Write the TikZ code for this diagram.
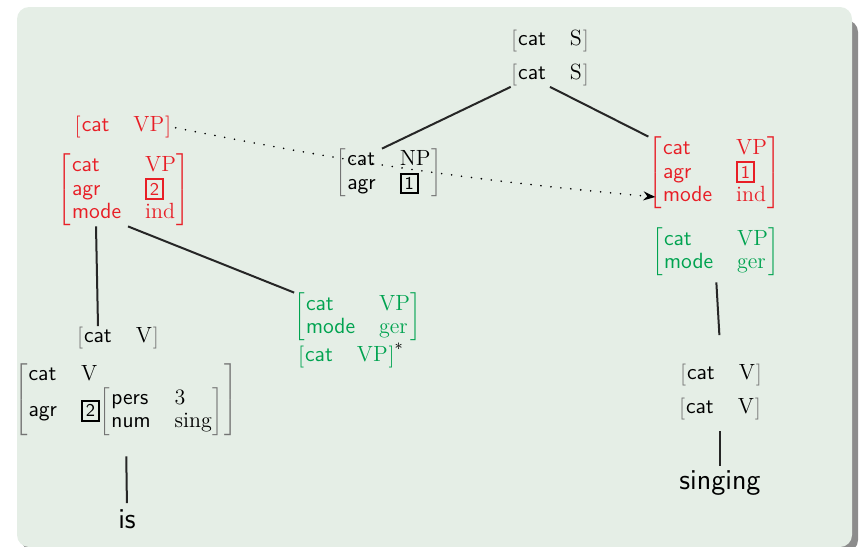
\documentclass[tikz,border=0pt]{standalone}
\usepackage{array}
\usetikzlibrary{arrows.meta,calc}
\definecolor{slidebg}{RGB}{229,238,230}
\definecolor{fsred}{RGB}{232,30,38}
\definecolor{fsgreen}{RGB}{0,163,80}
\colorlet{brk}{black!55}
\setlength{\fboxrule}{1pt}
\setlength{\fboxsep}{1.4pt}
\newcommand{\fs}[1]{$\colorlet{fstext}{.}\color{brk}\left[\color{fstext}\begin{tabular}{@{\hspace{0.5pt}}>{\sffamily}l@{\hspace{12pt}}>{\rmfamily}l@{\hspace{0.5pt}}}#1\end{tabular}\color{brk}\right]$}
\newcommand{\tagbox}[1]{\fbox{\sffamily\small #1}}
\begin{document}
\begin{tikzpicture}[x=0.5pt,y=-0.5pt,
  fsnode/.style={inner sep=0pt,font=\fontsize{11}{11.5}\selectfont},
  redfs/.style={fsnode,text=fsred,execute at begin node={\colorlet{brk}{fsred}}},
  greenfs/.style={fsnode,text=fsgreen,execute at begin node={\colorlet{brk}{fsgreen}}},
  word/.style={inner sep=0pt,font=\sffamily\Large},
  branch/.style={line width=1pt,black!85},
  link/.style={line width=0.9pt,dash pattern=on 0pt off 5pt,line cap=round,-{Stealth[length=6pt,width=4.5pt]}}]
\useasboundingbox (0,0) rectangle (861,546);
\fill[black!45,rounded corners=6pt] (22,20) rectangle (858,552);
\fill[slidebg,rounded corners=6pt] (17,7) rectangle (852,547);
% initial tree
\node[fsnode] (S1) at (550,41) {\fs{cat & S}};
\node[fsnode] (S2) at (550,75) {\fs{cat & S}};
\node[fsnode] (NP) at (389,173) {\fs{cat & NP\\ agr & \tagbox{1}}};
\node[redfs] (VPr) at (715,173) {\fs{cat & VP\\ agr & \tagbox{1}\\ mode & ind}};
\node[greenfs] (GVPr) at (716,252) {\fs{cat & VP\\ mode & ger}};
\node[fsnode] (Vr1) at (721,375) {\fs{cat & V}};
\node[fsnode] (Vr2) at (720,409) {\fs{cat & V}};
\node[word] (singing) at (720,483) {singing};
% auxiliary tree
\node[redfs] (VPlt) at (123,127) {\fs{cat & VP}};
\node[redfs] (VPl) at (124,190) {\fs{cat & VP\\ agr & \tagbox{2}\\ mode & ind}};
\node[fsnode] (Vl1) at (118,338) {\fs{cat & V}};
\node[fsnode] (Vl2) at (126,400) {\fs{cat & V\\ agr & \tagbox{2}\fs{pers & 3\\ num & sing}}};
\node[word] (is) at (127,519) {is};
\node[greenfs] (GVP) at (358,317) {\fs{cat & VP\\ mode & ger}};
\node[greenfs] (foot) at (351,356) {\fs{cat & VP}\textcolor{black}{\textsuperscript{*}}};

\draw[branch] (S2.south west) -- ([xshift=-3.5pt]NP.north);
\draw[branch] (S2.south) -- (VPr.north west);
\draw[branch] ([xshift=-14pt]VPl.south) -- ([xshift=-10pt]Vl1.north);
\draw[branch] ([xshift=2pt]VPl.south) -- (GVP.north west);
\draw[branch,shorten <=10pt,shorten >=3pt] (Vl2.south) -- (is.north);
\draw[branch,shorten <=3pt,shorten >=14pt] (GVPr.south) -- (Vr1.north);
\draw[branch,shorten <=5pt,shorten >=2pt] (Vr2.south) -- (singing.north);
\draw[link,shorten <=2pt] (VPlt.east) to[bend right=3] ($(VPr.west)+(7,24)$);
\end{tikzpicture}
\end{document}
